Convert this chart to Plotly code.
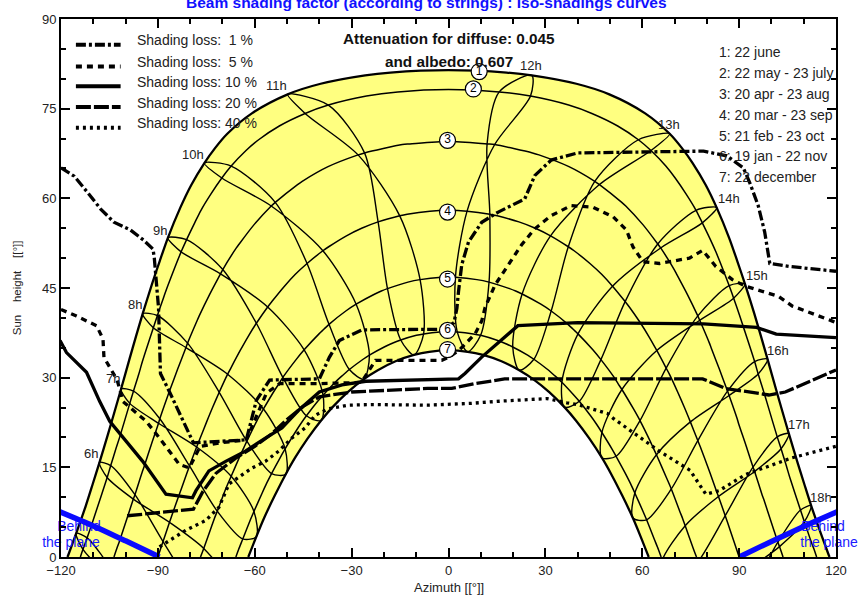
import plotly.graph_objects as go

# ---------------- date curves (azimuth [deg], sun height [deg]) ----------------
c1_az = [-118.0,-117.6,-115.3,-112.3,-110.2,-108.1,-105.4,-103.4,-101.4,-98.8,-96.8,-94.7,-91.8,-89.4,-86.9,-83.05,-79.7,-75.6,-72.3,-68.5,-60.9,-49.8,-39.6,-25.8,-18.0,
         0.0,18.0,25.8,39.6,49.8,60.9,68.5,72.3,75.6,79.7,83.05,86.9,89.4,91.8,94.7,96.8,98.8,101.4,103.4,105.4,108.1,110.2,112.3,115.3,117.6,118.0]
c1_h = [0,0.54,3.96,8.6,12.17,15.8,20.65,24.34,28.1,33.1,36.86,40.7,45.7,49.55,53.4,58.45,62.2,65.9,68.4,70.8,74.22,77.4,79.17,80.58,81.04,
        81.44,81.04,80.58,79.17,77.4,74.22,70.8,68.4,65.9,62.2,58.45,53.4,49.55,45.7,40.7,36.86,33.1,28.1,24.34,20.65,15.8,12.17,8.6,3.96,0.54,0]

c2_az = [-114.0,-113.2,-111.9,-110.2,-109.0,-105.7,-104.6,-103.0,-101.8,-98.7,-97.55,-95.9,-94.8,-91.4,-90.15,-88.3,-86.9,-82.8,-81.1,-78.6,-76.65,-73.6,-70.2,-67.3,-62.7,-58.8,-52.4,-44.4,-37.2,-25.4,-15.7,
         0.0,15.7,25.4,37.2,44.4,52.4,58.8,62.7,67.3,70.2,73.6,76.65,78.6,81.1,82.8,86.9,88.3,90.15,91.4,94.8,95.9,97.55,98.7,101.8,103.0,104.6,105.7,109.0,110.2,111.9,113.2,114.0]
c2_h = [0,1.28,3.2,5.9,7.85,13.3,15.3,18.1,20.1,25.7,27.75,30.6,32.7,38.35,40.4,43.3,45.4,51.05,53.1,55.9,58.0,60.7,63.4,65.4,68.0,69.8,72.1,74.2,75.6,77.1,77.8,
        78.2,77.8,77.1,75.6,74.2,72.1,69.8,68.0,65.4,63.4,60.7,58.0,55.9,53.1,51.05,45.4,43.3,40.4,38.35,32.7,30.6,27.75,25.7,20.1,18.1,15.3,13.3,7.85,5.9,3.2,1.28,0]

c3_az = [-103.6,-102.5,-102.0,-99.8,-97.6,-97.1,-94.8,-94.3,-92.1,-89.8,-89.4,-86.9,-86.4,-83.9,-81.3,-80.8,-77.8,-77.2,-74.0,-70.6,-69.9,-65.7,-64.8,-60.2,-54.9,-53.65,-46.75,-45.3,-37.3,-28.0,-26.0,-14.3,-11.95,
         0.0,11.95,14.3,26.0,28.0,37.3,45.3,46.75,53.65,54.9,60.2,64.8,65.7,69.9,70.6,74.0,77.2,77.8,80.8,81.3,83.9,86.4,86.9,89.4,89.8,92.1,94.3,94.8,97.1,97.6,99.8,102.0,102.5,103.6]
c3_h = [0,1.74,2.47,6.07,9.69,10.43,14.31,15.05,18.7,22.38,23.12,27.02,27.76,31.4,35.04,35.78,39.61,40.34,43.9,47.37,48.09,51.7,52.37,55.6,58.72,59.33,62.3,62.85,65.3,67.27,67.6,69.0,69.1,
        69.5,69.1,69.0,67.6,67.27,65.3,62.85,62.3,59.33,58.72,55.6,52.37,51.7,48.09,47.37,43.9,40.34,39.61,35.78,35.04,31.4,27.76,27.02,23.12,22.38,18.7,15.05,14.31,10.43,9.69,6.07,2.47,1.74,0]

c4_az = [-90.0,-88.4,-86.4,-85.7,-83.6,-81.9,-80.2,-78.0,-77.2,-74.9,-73.0,-71.0,-68.4,-67.4,-64.5,-62.1,-59.5,-56.0,-54.7,-50.8,-47.5,-43.8,-38.9,-37.1,-31.6,-26.9,-21.8,-15.1,-12.8,-5.75,
         0.0,5.75,12.8,15.1,21.8,26.9,31.6,37.1,38.9,43.8,47.5,50.8,54.7,56.0,59.5,62.1,64.5,67.4,68.4,71.0,73.0,74.9,77.2,78.0,80.2,81.9,83.6,85.7,86.4,88.4,90.0]
c4_h = [0,2.59,5.81,6.91,10.11,12.68,15.23,18.4,19.48,22.6,25.09,27.55,30.58,31.61,34.55,36.84,39.1,41.83,42.73,45.3,47.25,49.1,51.23,51.9,53.73,55.0,56.06,57.07,57.34,57.86,
        58.0,57.86,57.34,57.07,56.06,55.0,53.73,51.9,51.23,49.1,47.25,45.3,42.73,41.83,39.1,36.84,34.55,31.61,30.58,27.55,25.09,22.6,19.48,18.4,15.23,12.68,10.11,6.91,5.81,2.59,0]

c5_az = [-76.8,-75.8,-73.3,-72.5,-71.6,-69.0,-67.3,-64.4,-63.4,-62.45,-59.3,-57.3,-53.7,-52.5,-51.3,-47.2,-44.7,-40.1,-38.6,-37.0,-31.8,-28.6,-22.8,-20.8,-18.9,-12.55,-8.8,-2.15,
         0.0,2.15,8.8,12.55,18.9,20.8,22.8,28.6,31.8,37.0,38.6,40.1,44.7,47.2,51.3,52.5,53.7,57.3,59.3,62.45,63.4,64.4,67.3,69.0,71.6,72.5,73.3,75.8,76.8]
c5_h = [0,1.44,5.24,6.45,7.67,11.38,13.5,17.1,18.25,19.38,22.82,24.76,28.02,29.0,30.04,33.02,34.66,37.33,38.1,38.92,41.15,42.29,44.0,44.5,44.9,45.98,46.4,46.78,
        46.8,46.78,46.4,45.98,44.9,44.5,44.0,42.29,41.15,38.92,38.1,37.33,34.66,33.02,30.04,29.0,28.02,24.76,22.82,19.38,18.25,17.1,13.5,11.38,7.67,6.45,5.24,1.44,0]

c6_az = [-65.85,-65.0,-63.7,-61.35,-60.25,-57.7,-56.3,-54.8,-51.9,-50.6,-47.5,-45.8,-44.0,-40.5,-38.85,-35.1,-32.9,-30.7,-26.45,-24.5,-19.9,-17.4,-14.8,-9.95,-7.7,-2.7,
         0.0,2.7,7.7,9.95,14.8,17.4,19.9,24.5,26.45,30.7,32.9,35.1,38.85,40.5,44.0,45.8,47.5,50.6,51.9,54.8,56.3,57.7,60.25,61.35,63.7,65.0,65.85]
c6_h = [0,1.26,3.02,6.22,7.62,10.71,12.35,13.96,16.85,18.1,20.83,22.25,23.62,26.05,27.07,29.24,30.33,31.36,33.08,33.77,35.13,35.76,36.3,37.08,37.32,37.65,
        37.7,37.65,37.32,37.08,36.3,35.76,35.13,33.77,33.08,31.36,30.33,29.24,27.07,26.05,23.62,22.25,20.83,18.1,16.85,13.96,12.35,10.71,7.62,6.22,3.02,1.26,0]

c7_az = [-62.0,-59.5,-57.1,-53.8,-50.4,-47.5,-43.6,-39.45,-35.9,-31.2,-26.2,-21.9,-16.4,-10.7,-5.95,
         0.0,5.95,10.7,16.4,21.9,26.2,31.2,35.9,39.45,43.6,47.5,50.4,53.8,57.1,59.5,62.0]
c7_h = [0,3.42,6.53,10.27,13.85,16.61,19.84,22.84,25.07,27.58,29.76,31.25,32.74,33.8,34.33,
        34.56,34.33,33.8,32.74,31.25,29.76,27.58,25.07,22.84,19.84,16.61,13.85,10.27,6.53,3.42,0]

# ---------------- hour lines (legal time), one point per date ----------------
# order: 22 jun, 23 jul, 23 aug, 23 sep, 23 oct, 22 nov, 22 dec, 19 jan, 21 feb, 20 mar, 20 apr, 22 may
h05_az = [-115.3,-113.2,-105.4,-104.9,-111.9]
h05_h = [3.96,1.28,-2.8,-2.05,3.2]
h06_az = [-108.1,-105.7,-97.6,-86.4,-75.8,-68.4,-67.3,-71.5,-79.7,-88.4,-97.1,-104.6]
h06_h = [15.8,13.3,9.69,5.81,1.44,-3.8,-7.9,-8.7,-4.65,2.59,10.43,15.3]
h07_az = [-101.4,-98.7,-89.8,-78.0,-67.3,-60.25,-59.5,-63.7,-71.6,-80.2,-89.4,-97.55]
h07_h = [28.1,25.7,22.38,18.4,13.5,7.62,3.42,3.02,7.67,15.23,23.12,27.75]
h08_az = [-94.7,-91.4,-81.3,-68.4,-57.3,-50.6,-50.4,-54.8,-62.45,-71.0,-80.8,-90.15]
h08_h = [40.7,38.35,35.04,30.58,24.76,18.1,13.85,13.96,19.38,27.55,35.78,40.4]
h09_az = [-86.9,-82.8,-70.6,-56.0,-44.7,-38.85,-39.45,-44.0,-51.3,-59.5,-69.9,-81.1]
h09_h = [53.4,51.05,47.37,41.83,34.66,27.07,22.84,23.62,30.04,39.1,48.09,53.1]
h10_az = [-75.6,-70.2,-54.9,-38.9,-28.6,-24.5,-26.2,-30.7,-37.0,-43.8,-53.65,-67.3]
h10_h = [65.9,63.4,58.72,51.23,42.29,33.77,29.76,31.36,38.92,49.1,59.33,65.4]
h11_az = [-49.8,-44.4,-28.0,-15.1,-8.8,-7.7,-10.7,-14.8,-18.9,-21.8,-26.0,-37.2]
h11_h = [77.4,74.2,67.27,57.07,46.4,37.32,33.8,36.3,44.9,56.06,67.6,75.6]
h12_az = [25.8,15.7,11.95,12.8,12.55,9.95,5.95,2.7,2.15,5.75,14.3,25.4]
h12_h = [80.58,77.8,69.1,57.34,45.98,37.08,34.33,37.65,46.78,57.86,69.0,77.1]
h13_az = [68.5,58.8,45.3,37.1,31.8,26.45,21.9,19.9,22.8,31.6,46.75,62.7]
h13_h = [70.8,69.8,62.85,51.9,41.15,33.08,31.25,35.13,44.0,53.73,62.3,68.0]
h14_az = [83.05,76.65,64.8,54.7,47.2,40.5,35.9,35.1,40.1,50.8,65.7,78.6]
h14_h = [58.45,58.0,52.37,42.73,33.02,26.05,25.07,29.24,37.33,45.3,51.7,55.9]
h15_az = [91.8,86.9,77.2,67.4,59.3,51.9,47.5,47.5,53.7,64.5,77.8,88.3]
h15_h = [45.7,45.4,40.34,31.61,22.82,16.85,16.61,20.83,28.02,34.55,39.61,43.3]
h16_az = [98.8,94.8,86.4,77.2,69.0,61.35,57.1,57.7,64.4,74.9,86.9,95.9]
h16_h = [33.1,32.7,27.76,19.48,11.38,6.22,6.53,10.71,17.1,22.6,27.02,30.6]
h17_az = [105.4,101.8,94.3,85.7,77.3,69.4,65.2,66.2,73.3,83.6,94.8,103.0]
h17_h = [20.65,20.1,15.05,6.91,-0.8,-5.3,-4.6,-0.5,5.24,10.11,14.31,18.1]
h18_az = [112.3,109.0,102.0,93.6,85.0,81.2,91.6,102.5,110.2]
h18_h = [8.6,7.85,2.47,-5.8,-13.35,-7.2,-2.6,1.74,5.9]

# ---------------- iso-shading curves ----------------
iso1_az = [-120,-115.9,-111.8,-107.7,-103.6,-98.5,-94.4,-91.5,-91.1,-90.3,-89.8,-89.2,-86.2,-79.0,-70.8,-62.6,-59.5,-55.4,-48,-40,-36.9,-33.8,-26.8,-20,-10,-1.3,
           1.7,2.6,3.1,4.1,6.2,10.3,15.4,23.6,26.7,31.8,40,60,79,86.2,91.3,93.3,95.9,97.9,99.5,105.6,120]
iso1_h = [65.1,63.7,61.0,58.2,56.0,54.7,53.0,51.5,50.0,44.5,41.7,30.7,27.4,19.1,19.3,19.6,26.2,29.6,29.7,29.8,33.4,36.2,38.0,38.0,38.0,38.1,
          39.2,41.6,44.4,48.9,52.7,56.0,57.7,59.9,63.8,66.4,67.6,67.8,67.9,67.1,65.1,62.6,58.8,54.4,49.1,48.6,47.8]
iso5_az = [-120,-115.2,-109,-107,-106.7,-102.6,-100.8,-93.6,-89.5,-83.4,-80.3,-79,-76.9,-70.8,-62.6,-59.5,-56.4,-52.3,-40,-27,-22.6,-2.1,0,3.1,5.1,
           8.2,10.3,11.3,14.4,18.5,22.6,26.7,31.8,38,44.8,51,55.1,57.1,60.2,65.3,74.6,78.7,82.8,87.9,92,102.2,106.4,118.7,120]
iso5_h = [41.4,40.3,38.7,36.5,33.4,29.6,26.0,22.7,19.9,15.5,14.9,16.3,18.5,19.1,19.6,23.5,27.4,29.0,29.0,29.2,32.9,32.9,33.4,34.5,35.6,
          37.3,39.5,41.7,45.5,48.9,52.2,54.9,57.1,58.8,58.5,56.9,54.7,51.9,49.4,49.1,50.0,51.3,48.6,46.4,45.3,43.6,42.0,39.5,39.2]
iso10_az = [-120.3,-118.3,-112.1,-108,-104.9,-94.7,-87.5,-79.3,-78.2,-74.2,-69,-62.9,-56.7,-51.6,-46.5,-40,-33,-25.6,3.1,5.1,10.2,17.4,21.5,40,79,95.4,101.5,120]
iso10_h = [36.2,34.2,30.9,26.0,22.7,16.0,10.5,9.9,11.1,14.4,16.0,17.7,19.9,21.6,24.5,27.6,28.8,29.4,29.8,30.7,33.4,36.7,38.7,39.2,39.0,38.4,37.3,36.7]
iso20_az = [-99.5,-79,-76,-72,-66,-60,-55,-50,-45,-40,-30,-20,-6.5,1,8.2,17.4,31.5,78.7,85.8,99.2,104.3,120]
iso20_h = [6.9,8.0,11,14,16.5,18.5,20.5,23,25.2,26.8,27.6,27.9,28.2,28.2,29.0,29.8,29.8,29.8,28.2,27.1,27.6,31.3]
iso40_az = [-89.5,-81.3,-75.2,-71.1,-68,-64.9,-60.8,-56.7,-52.6,-48.5,-44.4,-41.3,-37.2,-31.1,-23.9,-6.5,6.8,17,30.5,36.6,40,49.2,51,65.3,74.8,79.7,83.8,92,106.4,120]
iso40_h = [1.7,4.5,6.1,8.3,12.2,13.3,14.9,16.0,17.7,19.9,21.6,23.7,24.8,25.4,25.5,25.4,25.7,26.1,26.5,25.8,25.5,24.0,23.2,17.7,14.5,10.5,11.1,13.8,16.6,18.5]

# ---------------- "behind the plane" limits ----------------
behind_left_az = [-120.5,-110,-100,-89.5]
behind_left_h = [7.6,5.2,2.7,0]
behind_right_az = [90,100,110,120.5]
behind_right_h = [0,2.6,5.1,7.6]

NB = "\u00a0"
iso_names = ["Shading loss:" + NB * 2 + "1" + NB + "%", "Shading loss:" + NB * 2 + "5" + NB + "%",
             "Shading loss:" + NB + "10" + NB + "%", "Shading loss:" + NB + "20" + NB + "%", "Shading loss:" + NB + "40" + NB + "%"]
date_labels = ["1: 22 june", "2: 22 may - 23 july", "3: 20 apr - 23 aug", "4: 20 mar - 23 sep",
               "5: 21 feb - 23 oct", "6: 19 jan - 22 nov", "7: 22 december"]
hour_names = ["6h","7h","8h","9h","10h","11h","12h","13h","14h","15h","16h","17h","18h"]

FONT = "Liberation Sans, Arial, sans-serif"
TXT = "#222222"
BLUE_TXT = "#1a1aff"
fig = go.Figure()

# yellow band between 22 june and 22 december
fig.add_trace(go.Scatter(x=c1_az + c7_az[::-1], y=c1_h + c7_h[::-1], mode="lines", fill="toself",
                         fillcolor="#ffff80", line=dict(width=0), hoverinfo="skip", showlegend=False))

def line(x, y, w=1.3, color="black", dash="solid", shape="spline", close=False):
    if close:
        x = x + x[:1]
        y = y + y[:1]
    fig.add_trace(go.Scatter(x=x, y=y, mode="lines", line=dict(color=color, width=w, dash=dash, shape=shape, smoothing=0.8),
                             hoverinfo="skip", showlegend=False))

for ax_, ay_ in [(c2_az, c2_h), (c3_az, c3_h), (c4_az, c4_h), (c5_az, c5_h), (c6_az, c6_h)]:
    line(ax_, ay_, w=1.5)
for ax_, ay_ in [(h05_az, h05_h), (h06_az, h06_h), (h07_az, h07_h), (h08_az, h08_h), (h09_az, h09_h), (h10_az, h10_h),
                 (h11_az, h11_h), (h12_az, h12_h), (h13_az, h13_h), (h14_az, h14_h), (h15_az, h15_h), (h16_az, h16_h),
                 (h17_az, h17_h), (h18_az, h18_h)]:
    line(ax_, ay_, w=1.4, close=True)
line(c1_az, c1_h, w=2.3)
line(c7_az, c7_h, w=2.3)

iso_styles = ["10px,3px,3px,3px", "6px,5px", "solid", "15px,3px", "3px,4px"]
for (ax_, ay_), st in zip([(iso1_az, iso1_h), (iso5_az, iso5_h), (iso10_az, iso10_h), (iso20_az, iso20_h), (iso40_az, iso40_h)], iso_styles):
    line(ax_, ay_, w=3.3, dash=st, shape="linear")

# "Behind the plane" texts (drawn below the blue limit lines, as in the original)
def data_of(px, py):
    return (px - 61) / 3.25 - 120, (557 - py) / 6.044
for s, px, py, pos in [("Behind", 101, 527, "middle left"), ("the plane", 100, 543, "middle left"),
                       ("Behind", 806, 527, "middle right"), ("the plane", 805, 543, "middle right")]:
    tx, ty = data_of(px, py)
    fig.add_trace(go.Scatter(x=[tx], y=[ty], mode="text", text=[s], textposition=pos, cliponaxis=False,
                             textfont=dict(family=FONT, size=14, color=BLUE_TXT), hoverinfo="skip", showlegend=False))

line(behind_left_az, behind_left_h, w=5.5, color="#0a0aff", shape="spline")
line(behind_right_az, behind_right_h, w=5.5, color="#0a0aff", shape="spline")

# numbered circles on the date curves
circ_x = [9.5, 7.7, -0.3, -0.3, -0.3, -0.3, -0.3]
circ_y = [81.2, 78.3, 69.7, 57.7, 46.5, 37.9, 34.7]
fig.add_trace(go.Scatter(x=circ_x, y=circ_y, mode="markers+text", text=[str(i) for i in range(1, 8)],
                         textposition="middle center", textfont=dict(family=FONT, size=12, color="black"),
                         marker=dict(size=16, color="white", line=dict(color="black", width=1.2)),
                         hoverinfo="skip", showlegend=False, cliponaxis=False))

def px2paper(px, py):
    return (px - 61) / 780.0, (557 - py) / 544.0

ann = []
def text(px, py, s, size=13, color=TXT, anchor="left", bold=False, angle=0):
    x, y = px2paper(px, py)
    ann.append(dict(x=x, y=y, xref="paper", yref="paper", text=("<b>%s</b>" % s) if bold else s, showarrow=False,
                    xanchor=anchor, yanchor="middle", textangle=angle, font=dict(family=FONT, size=size, color=color)))

text(429, -4, "Beam shading factor (according to strings) : Iso-shadings curves", size=15.5, color="#1010ff", anchor="center", bold=True)
text(451, 33, "Attenuation for diffuse: 0.045", size=15.3, color="#111", anchor="center", bold=True)
text(451, 56, "and albedo: 0.607", size=15.3, color="#111", anchor="center", bold=True)
for i, s in enumerate(date_labels):
    text(721, 46 + 21.2 * i, s, size=14)
leg_y = [39, 61, 81, 102, 123]
shapes = []
for i, (s, st) in enumerate(zip(iso_names, iso_styles)):
    text(135, leg_y[i] - 4.5, s, size=14)
    x0, y0 = px2paper(76, leg_y[i])
    x1, _ = px2paper(121, leg_y[i])
    shapes.append(dict(type="line", xref="paper", yref="paper", x0=x0, x1=x1, y0=y0, y1=y0,
                       line=dict(color="black", width=4, dash=st)))
hour_lbl_px = [(91, 452), (113, 377), (135, 302), (161, 227), (194, 150), (278, 80), (534, 60),
               (673, 120), (733, 195), (761, 272), (783, 348), (804, 423), (826, 497)]
for s, (px, py) in zip(hour_names, hour_lbl_px):
    text(px, py, s, size=13, anchor="center")
# axis titles
text(451, 588, "Azimuth [[°]]", size=13, anchor="center")
text(17, 285, "Sun" + NB * 4 + "height" + NB * 4 + "[[°]]", size=11.5, anchor="center", angle=-90)

axis_common = dict(showline=True, linecolor="black", linewidth=2, mirror="ticks", ticks="inside", ticklen=9,
                   tickwidth=1.5, tickcolor="black", showgrid=False, zeroline=False,
                   tickfont=dict(family=FONT, size=13, color=TXT))
fig.update_layout(
    width=859, height=596, margin=dict(l=61, r=18, t=13, b=39),
    paper_bgcolor="white", plot_bgcolor="white", showlegend=False,
    xaxis=dict(range=[-120, 120], tickvals=[-120, -90, -60, -30, 0, 30, 60, 90, 120],
               minor=dict(dtick=10, tick0=0, ticks="inside", ticklen=5, tickwidth=1.5, tickcolor="black"), **axis_common),
    yaxis=dict(range=[0, 90], tickvals=[0, 15, 30, 45, 60, 75, 90],
               minor=dict(dtick=5, tick0=0, ticks="inside", ticklen=5, tickwidth=1.5, tickcolor="black"), **axis_common),
    annotations=ann, shapes=shapes,
)
fig.write_html("out.html", config={"displayModeBar": False},
               post_script="document.body.style.margin='0px';document.documentElement.style.overflow='hidden';")
